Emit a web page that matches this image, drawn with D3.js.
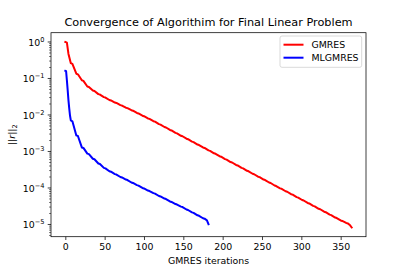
<!DOCTYPE html>
<html>
<head>
<meta charset="utf-8">
<script src="https://cdn.jsdelivr.net/npm/d3@7"></script>
<style>
  body { margin: 0; background: #fff; }
  text { font-family: "DejaVu Sans", sans-serif; fill: #000; }
</style>
</head>
<body>
<svg id="chart" width="407" height="271"></svg>
<script>
// residual history
var gmresIter = [0, 2, 4, 7, 9, 14, 16, 21, 23, 28, 30, 35, 37, 42, 44, 49, 51, 56, 58, 63, 65,
  70, 72, 77, 79, 84, 86, 91, 93, 98, 100, 105, 107, 112, 114, 119, 121, 126, 128, 133, 135,
  140, 142, 147, 149, 154, 156, 161, 163, 168, 170, 175, 177, 182, 184, 189, 191, 196, 198,
  203, 205, 210, 212, 217, 219, 224, 226, 231, 233, 238, 240, 245, 247, 252, 254, 259, 261,
  266, 268, 273, 275, 280, 282, 287, 289, 294, 296, 301, 303, 308, 310, 315, 317, 322, 324,
  329, 331, 336, 338, 343, 345, 350, 352, 357, 359, 362, 364];
var gmresRes = [1.0, 0.96, 0.47, 2.63e-1, 2.50e-1, 1.35e-1, 1.30e-1, 8.91e-2, 8.6e-2, 6.03e-2, 5.85e-2,
  4.68e-2, 4.55e-2, 3.72e-2, 3.62e-2, 3.09e-2, 3.0e-2, 2.57e-2, 2.5e-2, 2.19e-2, 2.13e-2,
  1.86e-2, 1.81e-2, 1.58e-2, 1.54e-2, 1.35e-2, 1.31e-2, 1.135e-2, 1.10e-2, 9.55e-3, 9.27e-3,
  8.04e-3, 7.8e-3, 6.76e-3, 6.56e-3, 5.62e-3, 5.45e-3, 4.68e-3, 4.54e-3, 3.89e-3, 3.77e-3,
  3.24e-3, 3.14e-3, 2.69e-3, 2.61e-3, 2.24e-3, 2.17e-3, 1.86e-3, 1.80e-3, 1.55e-3, 1.50e-3,
  1.29e-3, 1.25e-3, 1.07e-3, 1.04e-3, 8.91e-4, 8.64e-4, 7.41e-4, 7.19e-4, 6.17e-4, 5.98e-4,
  5.13e-4, 4.98e-4, 4.27e-4, 4.14e-4, 3.55e-4, 3.44e-4, 2.95e-4, 2.86e-4, 2.45e-4, 2.38e-4,
  2.04e-4, 1.98e-4, 1.70e-4, 1.65e-4, 1.41e-4, 1.37e-4, 1.17e-4, 1.13e-4, 9.77e-5, 9.48e-5,
  8.13e-5, 7.89e-5, 6.76e-5, 6.56e-5, 5.62e-5, 5.45e-5, 4.68e-5, 4.54e-5, 3.89e-5, 3.77e-5,
  3.24e-5, 3.14e-5, 2.69e-5, 2.61e-5, 2.24e-5, 2.17e-5, 1.86e-5, 1.80e-5, 1.55e-5, 1.50e-5,
  1.29e-5, 1.25e-5, 1.10e-5, 1.07e-5, 9.5e-6, 8.3e-6];

var mlgmresIter = [0, 1, 2, 3, 4, 5, 6, 7, 9, 14, 16, 21, 23, 28, 30, 35, 37, 42, 44, 49, 51,
  56, 58, 63, 65, 70, 72, 77, 79, 84, 86, 91, 93, 98, 100, 105, 107, 112, 114, 119, 121,
  126, 128, 133, 135, 140, 142, 147, 149, 154, 156, 161, 163, 168, 170, 175, 177, 180, 182];
var mlgmresRes = [1.62e-1, 1.58e-1, 8.9e-2, 4.8e-2, 2.5e-2, 1.5e-2, 9.5e-3, 7.08e-3, 6.7e-3,
  2.75e-3, 2.65e-3, 1.29e-3, 1.25e-3, 8.71e-4, 8.45e-4, 6.31e-4, 6.12e-4, 4.68e-4, 4.54e-4,
  3.55e-4, 3.44e-4, 2.88e-4, 2.79e-4, 2.40e-4, 2.33e-4, 2.00e-4, 1.94e-4, 1.70e-4, 1.65e-4,
  1.41e-4, 1.37e-4, 1.20e-4, 1.16e-4, 1.00e-4, 9.7e-5, 8.51e-5, 8.25e-5, 7.24e-5, 7.02e-5,
  6.03e-5, 5.85e-5, 5.13e-5, 4.98e-5, 4.27e-5, 4.14e-5, 3.63e-5, 3.52e-5, 3.09e-5, 3.0e-5,
  2.57e-5, 2.49e-5, 2.14e-5, 2.08e-5, 1.78e-5, 1.73e-5, 1.48e-5, 1.44e-5, 1.3e-5, 1.02e-5];

var seriesNames = ["GMRES", "MLGMRES"];
var seriesColors = ["#ff0000", "#0000ff"];
var xTicks = [0, 50, 100, 150, 200, 250, 300, 350];
var yExps = [0, -1, -2, -3, -4, -5];

(function(){
var pl = 51, pr = 366, pt = 32.7, pb = 236.7;

var svg = d3.select("#chart");

// matplotlib style 5% margins
var xmax = d3.max(gmresIter.concat(mlgmresIter)), xmin = 0;
var xpad = (xmax - xmin) * 0.05;
var x = d3.scaleLinear().domain([xmin - xpad, xmax + xpad]).range([pl, pr]);

var allRes = gmresRes.concat(mlgmresRes);
var lmax = Math.log10(d3.max(allRes)), lmin = Math.log10(d3.min(allRes));
var lpad = (lmax - lmin) * 0.05;
var y = d3.scaleLog().domain([Math.pow(10, lmin - lpad), Math.pow(10, lmax + lpad)]).range([pb, pt]);

var series = [
  {name: seriesNames[0], color: seriesColors[0], pts: d3.zip(gmresIter, gmresRes)},
  {name: seriesNames[1], color: seriesColors[1], pts: d3.zip(mlgmresIter, mlgmresRes)}
];

var line = d3.line().x(function(d){ return x(d[0]); }).y(function(d){ return y(d[1]); });

svg.append("g").selectAll("path").data(series).enter()
  .append("path")
  .attr("d", function(s){ return line(s.pts); })
  .attr("fill", "none")
  .attr("stroke", function(s){ return s.color; })
  .attr("stroke-width", 2)
  .attr("stroke-linejoin", "round")
  .attr("stroke-linecap", "square");

// x axis
var xAxis = svg.append("g").attr("transform", "translate(0," + pb + ")")
  .call(d3.axisBottom(x).tickValues(xTicks).tickSize(3.3).tickPadding(3));
xAxis.select(".domain").remove();
xAxis.selectAll("line").attr("stroke-width", 0.75);
xAxis.selectAll("text").attr("font-size", "9.4px").attr("font-family", "DejaVu Sans");

// y axis: minor ticks
var d0 = y.domain();
var minor = [];
for (var e = -6; e <= 0; e++) {
  for (var m = 2; m <= 9; m++) {
    var v = m * Math.pow(10, e);
    if (v >= d0[0] && v <= d0[1]) minor.push(v);
  }
}
svg.append("g").selectAll("line").data(minor).enter().append("line")
  .attr("x1", pl - 1.9).attr("x2", pl)
  .attr("y1", function(d){ return y(d); }).attr("y2", function(d){ return y(d); })
  .attr("stroke", "#000").attr("stroke-width", 0.56);

var yTick = svg.append("g").selectAll("g").data(yExps).enter().append("g")
  .attr("transform", function(d){ return "translate(0," + y(Math.pow(10, d)) + ")"; });
yTick.append("line").attr("x1", pl - 3.3).attr("x2", pl)
  .attr("stroke", "#000").attr("stroke-width", 0.75);
var yt = yTick.append("text").attr("x", pl - 6.5).attr("y", 3.6)
  .attr("text-anchor", "end").attr("font-size", "9.4px");
yt.append("tspan").text("10");
yt.append("tspan").attr("dy", -4).attr("font-size", "6.6px")
  .text(function(d){ return d < 0 ? "\u2212" + (-d) : "" + d; });

// frame
svg.append("rect").attr("x", pl).attr("y", pt)
  .attr("width", pr - pl).attr("height", pb - pt)
  .attr("fill", "none").attr("stroke", "#000").attr("stroke-width", 0.75);

// title and labels
svg.append("text").attr("x", (pl + pr) / 2).attr("y", 26)
  .attr("text-anchor", "middle").attr("font-size", "11.3px")
  .text("Convergence of Algorithim for Final Linear Problem");

svg.append("text").attr("x", (pl + pr) / 2).attr("y", 264)
  .attr("text-anchor", "middle").attr("font-size", "9.4px")
  .text("GMRES iterations");

var yl = svg.append("text")
  .attr("transform", "translate(15," + ((pt + pb) / 2) + ") rotate(-90)")
  .attr("text-anchor", "middle").attr("font-size", "9.4px");
yl.append("tspan").text("||");
yl.append("tspan").attr("font-style", "italic").text("r");
yl.append("tspan").text("||");
yl.append("tspan").attr("dy", 2).attr("font-size", "6.6px").text("2");

// legend
var lg = svg.append("g");
lg.append("rect").attr("x", 280).attr("y", 36).attr("width", 81.7).attr("height", 31.3)
  .attr("rx", 2).attr("fill", "#fff").attr("fill-opacity", 0.8)
  .attr("stroke", "#cccccc").attr("stroke-width", 0.75);
var li = lg.selectAll("g").data(series).enter().append("g")
  .attr("transform", function(d, i){ return "translate(0," + (44.7 + i * 13) + ")"; });
li.append("line").attr("x1", 283.5).attr("x2", 303.5)
  .attr("stroke", function(d){ return d.color; }).attr("stroke-width", 2);
li.append("text").attr("x", 311.5).attr("y", 3.4).attr("font-size", "9.4px")
  .text(function(d){ return d.name; });
})();
</script>
</body>
</html>
